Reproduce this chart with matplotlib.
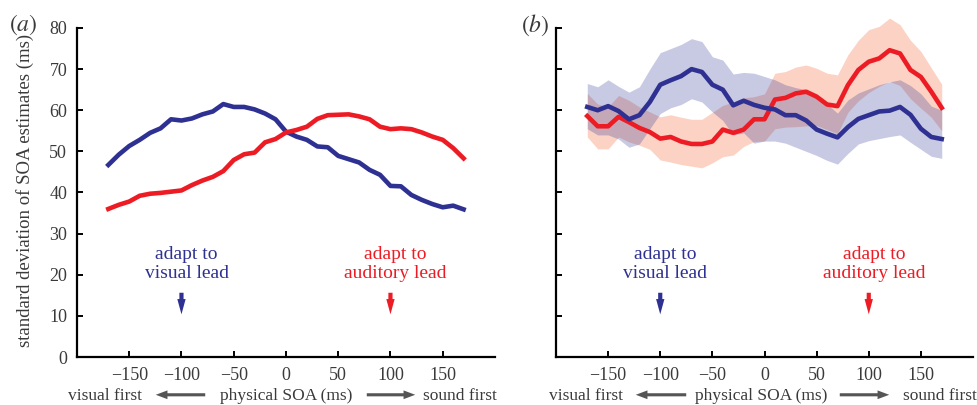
import matplotlib
matplotlib.use("Agg")
import matplotlib.pyplot as plt

plt.rcParams['font.family'] = ['Liberation Serif', 'DejaVu Serif']
plt.rcParams['mathtext.fontset'] = 'stix'

# physical SOA (ms)
soa = [-170, -160, -150, -140, -130, -120, -110, -100, -90, -80, -70, -60,
       -50, -40, -30, -20, -10, 0, 10, 20, 30, 40, 50, 60, 70, 80, 90, 100,
       110, 120, 130, 140, 150, 160, 170]

# panel (a): model
a_visual = [46.7, 49.2, 51.3, 52.8, 54.5, 55.6, 57.8, 57.5, 58.0, 59.0, 59.7, 61.5,
            60.8, 60.8, 60.2, 59.2, 57.8, 54.8, 53.6, 52.8, 51.2, 51.0, 48.9, 48.1,
            47.3, 45.5, 44.3, 41.6, 41.5, 39.4, 38.2, 37.2, 36.4, 36.8, 35.9]
a_audio = [36.0, 37.0, 37.8, 39.2, 39.7, 39.9, 40.2, 40.5, 41.8, 42.9, 43.8, 45.2,
           47.9, 49.3, 49.7, 52.2, 53.0, 54.6, 55.2, 56.0, 57.9, 58.8, 58.9, 59.0,
           58.5, 57.8, 56.0, 55.4, 55.6, 55.4, 54.6, 53.6, 52.8, 50.8, 48.3]

# panel (b): data, with shaded error bands
b_visual = [60.8, 60.0, 61.0, 59.8, 57.8, 58.8, 62.0, 66.2, 67.3, 68.3, 70.0, 69.3,
            66.2, 65.0, 61.2, 62.3, 61.3, 60.6, 60.2, 58.8, 58.8, 57.5, 55.3, 54.3,
            53.4, 55.9, 57.9, 58.8, 59.7, 59.9, 60.8, 58.9, 55.5, 53.5, 53.0]
b_visual_hi = [66.5, 65.7, 67.4, 65.8, 64.4, 65.7, 70.0, 74.0, 75.0, 76.0, 77.4, 76.7,
               73.0, 72.2, 68.8, 69.2, 69.0, 68.2, 67.4, 66.2, 65.5, 65.0, 63.2, 61.5,
               59.3, 62.5, 64.2, 65.2, 66.2, 66.9, 67.4, 66.0, 64.0, 61.0, 60.0]
b_visual_lo = [55.5, 54.0, 54.0, 53.0, 51.0, 51.8, 55.5, 59.2, 60.6, 61.4, 62.8, 62.0,
               59.6, 57.5, 54.0, 54.5, 52.0, 52.5, 52.5, 52.0, 51.0, 50.0, 49.0, 47.8,
               46.9, 49.5, 51.8, 52.6, 53.1, 53.6, 54.0, 52.2, 50.5, 48.8, 48.3]
b_audio = [58.6, 56.1, 56.1, 58.4, 57.1, 55.7, 54.7, 53.1, 53.5, 52.4, 51.8, 51.8,
           52.4, 55.3, 54.5, 55.3, 57.8, 57.8, 62.6, 63.0, 64.1, 64.5, 63.3, 61.4,
           61.0, 66.1, 69.8, 71.8, 72.6, 74.6, 73.8, 69.8, 68.1, 64.5, 60.6]
b_audio_hi = [64.1, 61.5, 60.8, 63.6, 62.4, 60.8, 59.6, 58.4, 58.9, 58.3, 57.8, 57.8,
              59.5, 61.2, 62.0, 63.0, 63.3, 64.0, 69.0, 69.4, 70.5, 71.0, 70.2, 69.0,
              68.6, 73.5, 77.0, 79.6, 80.4, 82.4, 80.8, 77.0, 74.3, 70.3, 66.3]
b_audio_lo = [53.5, 50.6, 50.6, 53.5, 52.3, 51.5, 50.5, 47.9, 47.4, 46.8, 46.4, 46.0,
              47.2, 48.7, 49.1, 51.2, 52.4, 52.5, 55.5, 55.9, 56.0, 56.2, 56.3, 55.3,
              54.3, 59.5, 62.3, 64.3, 65.8, 67.0, 66.0, 62.8, 60.5, 58.3, 55.0]

xticks = [-150, -100, -50, 0, 50, 100, 150]
yticks = [0, 10, 20, 30, 40, 50, 60, 70, 80]

BLUE = '#2e3192'
RED = '#ed1c24'
PEACH = '#f26d3d'
GREY = '#3a3a3a'

fig = plt.figure(figsize=(9.78, 4.05), dpi=100)
ax_a = fig.add_axes([0.0787, 0.1185, 0.4274, 0.8124])
ax_b = fig.add_axes([0.5685, 0.1185, 0.4264, 0.8124])


def style_axes(ax, show_ylabels):
    ax.set_xlim(-200, 200)
    ax.set_ylim(0, 80)
    ax.set_xticks(xticks)
    ax.set_yticks(yticks)
    for s in ['top', 'right']:
        ax.spines[s].set_visible(False)
    for s in ['left', 'bottom']:
        ax.spines[s].set_linewidth(1.6)
        ax.spines[s].set_color('black')
    ax.tick_params(direction='in', length=4, width=1.4, colors='black',
                   labelcolor=GREY, labelsize=13)
    ax.tick_params(axis='x', pad=7)
    ax.tick_params(axis='y', pad=7)
    if not show_ylabels:
        ax.set_yticklabels([])
    ax.patch.set_alpha(0)


def down_arrow(ax, x, color):
    ax.annotate('', xy=(x, 9.7), xytext=(x, 16.3),
                arrowprops=dict(arrowstyle='simple,head_length=0.55,head_width=0.3,tail_width=0.15',
                                mutation_scale=20, color=color, lw=0))


def adapt_labels(ax):
    ax.text(-95, 22.6, 'adapt to\nvisual lead', color=BLUE, fontsize=14,
            ha='center', va='center', linespacing=1.2)
    ax.text(105, 22.6, 'adapt to\nauditory lead', color=RED, fontsize=14,
            ha='center', va='center', linespacing=1.2)
    down_arrow(ax, -100, BLUE)
    down_arrow(ax, 100, RED)


# (a)
ax_a.plot(soa, a_visual, color=BLUE, lw=3.3)
ax_a.plot(soa, a_audio, color=RED, lw=3.3)
style_axes(ax_a, True)
adapt_labels(ax_a)

# (b)
ax_b.fill_between(soa, b_audio_lo, b_audio_hi, color=PEACH, alpha=0.3, lw=0, clip_on=False)
ax_b.plot(soa, b_audio, color=RED, lw=3.3)
ax_b.fill_between(soa, b_visual_lo, b_visual_hi, color=BLUE, alpha=0.26, lw=0, clip_on=False)
ax_b.plot(soa, b_visual, color=BLUE, lw=3.3)
style_axes(ax_b, False)
adapt_labels(ax_b)

fig.text(25 / 978, 0.53, 'standard deviation of SOA estimates (ms)', rotation=90,
         ha='center', va='center', fontsize=13.5, color=GREY)
fig.text(9 / 978, 1 - 25 / 405, r'$(a)$', fontsize=17, color=GREY, ha='left', va='center')
fig.text(521 / 978, 1 - 25 / 405, r'$(b)$', fontsize=17, color=GREY, ha='left', va='center')


# bottom "visual first <- physical SOA (ms) -> sound first" captions
def caption_row(x_vis, x_arr1, x_mid, x_arr2, x_snd):
    yf = 1 - 396 / 405
    fig.text(x_vis / 978, yf, 'visual first', fontsize=12.5, color=GREY, ha='left', va='center')
    fig.text(x_mid / 978, yf, 'physical SOA (ms)', fontsize=12.5, color=GREY, ha='center', va='center')
    fig.text(x_snd / 978, yf, 'sound first', fontsize=12.5, color=GREY, ha='left', va='center')
    style = 'simple,head_length=0.6,head_width=0.45,tail_width=0.16'
    fig.add_artist(matplotlib.patches.FancyArrowPatch(
        (x_arr1[1] / 978, yf + 0.003), (x_arr1[0] / 978, yf + 0.003), transform=fig.transFigure,
        arrowstyle=style, mutation_scale=14, color='#555555', lw=0))
    fig.add_artist(matplotlib.patches.FancyArrowPatch(
        (x_arr2[0] / 978, yf + 0.003), (x_arr2[1] / 978, yf + 0.003), transform=fig.transFigure,
        arrowstyle=style, mutation_scale=14, color='#555555', lw=0))


caption_row(68, (153, 208), 286, (364, 418), 423)
caption_row(549, (633, 689), 761, (837, 892), 903)

fig.savefig('out.png', dpi=100)
